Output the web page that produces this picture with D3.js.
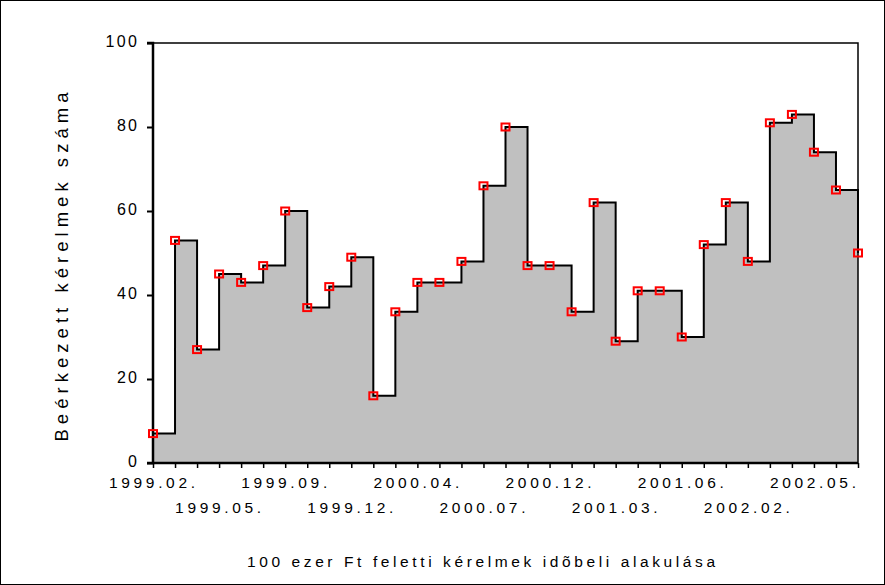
<!DOCTYPE html>
<html>
<head>
    <meta charset="utf-8">
    <title>kerelmek</title>
    <style>
        body { margin: 0; background: #fff; }
        text { font-family: "Liberation Sans", Arial, sans-serif; fill: #000; }
    </style>
</head>
<body>
    <script src="https://d3js.org/d3.v7.min.js"></script>
    <svg width="885" height="585" id="mainsvg"></svg>
    <script>
        // number of requests per period (only every third period is labelled)
        const counts = [7, 53, 27, 45, 43, 47, 60, 37, 42, 49, 16, 36, 43, 43, 48, 66, 80,
            47, 47, 36, 62, 29, 41, 41, 30, 52, 62, 48, 81, 83, 74, 65, 50];
        const xLabels = ['1999.02.', '1999.05.', '1999.09.', '1999.12.', '2000.04.', '2000.07.',
            '2000.12.', '2001.03.', '2001.06.', '2002.02.', '2002.05.'];
        const yTicks = [0, 20, 40, 60, 80, 100];
        const labelEvery = 3;

        const svg = d3.select('#mainsvg');
        const width = +svg.attr('width');
        const height = +svg.attr('height');
        const margin = { top: 43, right: 27, bottom: 122, left: 153 };
        const innerWidth = width - margin.left - margin.right;
        const innerHeight = height - margin.top - margin.bottom;

        // outer frame
        svg.append('rect')
            .attr('x', 0.5).attr('y', 0.5)
            .attr('width', width - 1).attr('height', height - 1)
            .attr('fill', 'none').attr('stroke', '#000').attr('stroke-width', 1);

        const g = svg.append('g').attr('id', 'maingroup')
            .attr('transform', `translate(${margin.left}, ${margin.top})`);

        const data = counts.map((v, i) => ({ i: i, v: v }));

        const xScale = d3.scalePoint()
            .domain(data.map(d => d.i))
            .range([0, innerWidth]);

        const yScale = d3.scaleLinear()
            .domain([0, 100])
            .range([innerHeight, 0]);

        const area = d3.area()
            .x(d => xScale(d.i))
            .y0(yScale(0))
            .y1(d => yScale(d.v))
            .curve(d3.curveStepAfter);

        const line = d3.line()
            .x(d => xScale(d.i))
            .y(d => yScale(d.v))
            .curve(d3.curveStepAfter);

        g.append('path')
            .datum(data)
            .attr('fill', '#c0c0c0')
            .attr('d', area);

        // top and right frame of the plot
        g.append('path')
            .attr('d', `M0,${yScale(100)}H${innerWidth}V${yScale(0)}`)
            .attr('fill', 'none')
            .attr('stroke', '#000')
            .attr('stroke-width', 1.5);

        g.append('path')
            .datum(data)
            .attr('fill', 'none')
            .attr('stroke', '#000')
            .attr('stroke-width', 2)
            .attr('d', line);

        // y axis
        const yAxis = d3.axisLeft(yScale).tickValues(yTicks).tickSize(6).tickPadding(0).tickFormat(d3.format('d'));
        const yAxisGroup = g.append('g').call(yAxis);
        yAxisGroup.select('.domain').attr('stroke-width', 2.5)
            .attr('d', `M-6,${yScale(100)}H0V${yScale(0)}H-6`);
        yAxisGroup.selectAll('.tick line').attr('stroke-width', 2);
        yAxisGroup.selectAll('.tick text')
            .attr('font-size', '16px')
            .attr('x', -16)
            .attr('dy', '0.2em')
            .attr('font-family', '"Liberation Sans", Arial, sans-serif')
            .attr('textLength', d => String(d).length * 11.5 - 3)
            .attr('lengthAdjust', 'spacing');

        // x axis
        const xAxis = d3.axisBottom(xScale).tickSize(5).tickFormat('');
        const xAxisGroup = g.append('g').call(xAxis)
            .attr('transform', `translate(0, ${innerHeight})`);
        xAxisGroup.select('.domain').attr('stroke-width', 2.5)
            .attr('d', `M0,0H${innerWidth}`);
        xAxisGroup.selectAll('.tick line').attr('stroke-width', 1.5);

        g.append('g').selectAll('text')
            .data(xLabels)
            .join('text')
            .attr('x', (d, k) => xScale(k * labelEvery) - 1)
            .attr('y', (d, k) => innerHeight + (k % 2 === 0 ? 25 : 50))
            .attr('text-anchor', 'middle')
            .attr('font-size', '15.5px')
            .attr('textLength', 86)
            .attr('lengthAdjust', 'spacing')
            .text(d => d);

        // markers
        g.append('g').selectAll('rect')
            .data(data)
            .join('rect')
            .attr('x', d => xScale(d.i) - 4)
            .attr('y', d => yScale(d.v) - 3.5)
            .attr('width', 8)
            .attr('height', 7)
            .attr('fill', 'none')
            .attr('stroke', '#ff0000')
            .attr('stroke-width', 2);

        // axis titles
        svg.append('text')
            .attr('transform', `translate(68, 267) rotate(-90)`)
            .attr('text-anchor', 'middle')
            .attr('font-size', '18.5px')
            .attr('textLength', 349)
            .attr('lengthAdjust', 'spacing')
            .text('Beérkezett kérelmek száma');

        svg.append('text')
            .attr('x', 481)
            .attr('y', 567)
            .attr('text-anchor', 'middle')
            .attr('font-size', '15.5px')
            .attr('textLength', 468)
            .attr('lengthAdjust', 'spacing')
            .text('100 ezer Ft feletti kérelmek idõbeli alakulása');
    </script>
</body>
</html>
